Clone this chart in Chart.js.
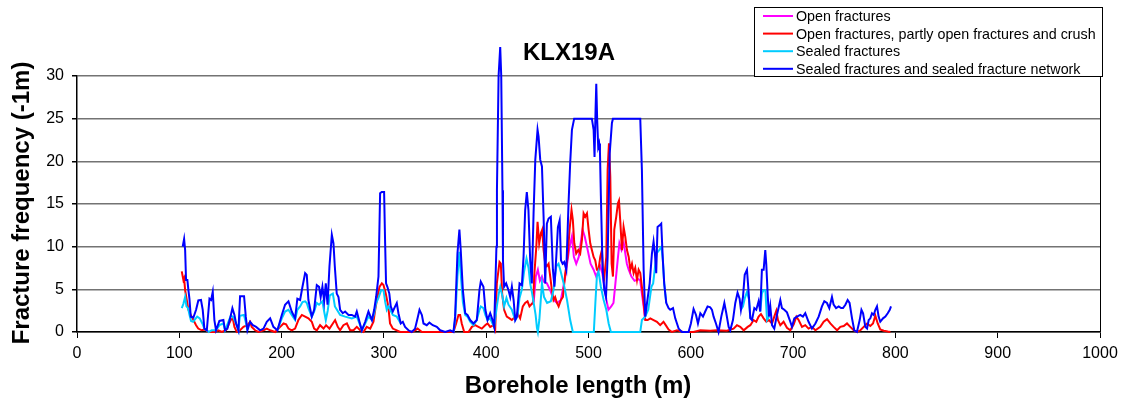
<!DOCTYPE html>
<html>
<head>
<meta charset="utf-8">
<script src="https://cdn.jsdelivr.net/npm/chart.js@4/dist/chart.umd.min.js"></script>
<style>
  html, body { margin: 0; padding: 0; background: #fff; }
  #wrap { width: 1130px; height: 405px; position: relative; }
</style>
</head>
<body>
<div id="wrap"><canvas id="chart"></canvas></div>
<script>
const chartTitle = 'KLX19A';
const xTitle = 'Borehole length (m)';
const yTitle = 'Fracture frequency (-1m)';
const xTicks = [0, 100, 200, 300, 400, 500, 600, 700, 800, 900, 1000];
const yTicks = [0, 5, 10, 15, 20, 25, 30];

const seriesNames = [
  'Open fractures',
  'Open fractures, partly open fractures and crush',
  'Sealed fractures',
  'Sealed fractures and sealed fracture network'
];
const seriesColors = ['#ff00ff', '#ff0000', '#00ccff', '#0000ff'];

// open fractures (only where it shows above the red line)
const openDepth = [444.6, 446.5, 448.5, 450.5, 452.5, 454.5, 456, 459.3, 462.6, 466, 469.2, 473, 477.3, 481.2, 483.8, 485.7, 488, 490.5, 494.2, 496.3, 499.2, 502, 505, 507.5, 511.5, 513.5, 515.6, 517.5, 519.5, 522.2, 524.4, 526.3, 528.5, 530.2, 532.3, 534.5, 537.5, 539.3, 542, 545, 549, 550.6, 552.2, 553.9, 555.5];
const openFreq = [3.3, 3.6, 6.5, 7.3, 6.0, 6.5, 5.9, 5.7, 4.9, 3.75, 3.4, 3.75, 6.5, 9.8, 11.2, 8.8, 8.0, 8.8, 12.0, 11.2, 9.6, 8.0, 7.3, 6.5, 7.7, 6.9, 5.3, 3.75, 2.6, 3.0, 3.4, 5.7, 8.4, 10.4, 9.6, 10.4, 8.0, 7.3, 6.5, 6.0, 6.2, 6.0, 4.5, 3.0, 1.4];

// open fractures, partly open fractures and crush
const crushDepth = [102.4, 104.0, 104.7, 105.7, 107.3, 108.9, 111.2, 113.8, 116.4, 118.5, 121.9, 125.1, 128.5, 134.6, 138.2, 141.5, 145.7, 148.0, 150.3, 152.3, 153.9, 156.2, 159.4, 162.7, 166.6, 169.2, 170.8, 174.1, 177.4, 182.3, 185.5, 188.8, 193.6, 198.6, 201.9, 204.4, 206.7, 209.9, 213.2, 216.4, 219.8, 223.0, 226.2, 229.5, 231.8, 234.4, 237.6, 241.0, 243.5, 246.8, 250.1, 252.3, 254.9, 257.2, 260.4, 263.8, 267.0, 270.3, 273.5, 276.8, 280.0, 283.2, 286.6, 289.8, 291.5, 293.7, 295.7, 298.0, 299.6, 301.8, 304.3, 306.0, 308.7, 312.6, 315.9, 327.4, 330.5, 332.9, 337.1, 368.0, 370.6, 372.9, 374.5, 376.1, 378.5, 382.7, 386.0, 389.2, 392.4, 395.7, 399.0, 401.3, 403.9, 407.2, 408.8, 410.4, 413.0, 414.3, 415.6, 417.5, 420.1, 422.8, 425.1, 428.4, 430.7, 433.2, 435.8, 438.1, 440.4, 442.3, 444.6, 445.9, 446.9, 449.0, 450.2, 451.8, 453.5, 454.8, 456.1, 457.7, 459.3, 461.0, 462.6, 464.2, 465.8, 467.4, 469.2, 470.8, 473.1, 475.0, 477.3, 479.6, 481.5, 483.4, 484.7, 486.1, 488.0, 490.0, 491.9, 493.6, 495.2, 496.8, 498.5, 500.1, 501.7, 503.3, 505.0, 506.6, 508.2, 509.8, 511.5, 513.1, 514.2, 515.5, 517.4, 518.7, 520.0, 521.3, 522.6, 523.9, 525.2, 527.1, 528.8, 529.8, 531.0, 532.7, 534.3, 535.9, 537.6, 539.3, 540.9, 542.5, 544.1, 545.7, 547.4, 549.0, 550.6, 552.2, 553.9, 555.5, 557.8, 560.4, 563.6, 566.9, 570.1, 573.3, 575.0, 578.3, 581.5, 586.5, 592.6, 602.6, 609.3, 619.0, 625.5, 635.3, 641.8, 645.1, 648.3, 651.7, 655.6, 658.2, 661.4, 664.0, 666.3, 668.6, 671.2, 673.8, 676.4, 679.4, 681.6, 683.6, 685.2, 687.5, 690.7, 694.0, 697.3, 700.6, 703.2, 705.4, 708.7, 711.9, 715.1, 718.4, 721.8, 726.6, 729.9, 733.2, 736.4, 739.6, 743.0, 746.2, 749.5, 752.7, 755.9, 759.2, 762.4, 765.8, 769.0, 772.3, 775.5, 778.1, 780.4, 782.7, 785.2, 788.6, 792.5, 795.1];
const crushFreq = [7.1, 6.1, 6.3, 4.9, 3.75, 2.6, 2.0, 1.4, 0.8, 0.4, 0.2, 0.3, 0, 0, 0.2, 0, 0.2, 0.8, 1.4, 1.6, 0.6, 0, 0.2, 0.6, 0.8, 1.2, 0.6, 0.2, 0, 0.2, 0.4, 0.2, 0, 0.6, 1.0, 0.9, 0.4, 0.2, 0.4, 1.4, 2.0, 1.8, 1.6, 1.2, 0.4, 0.2, 0.8, 0.4, 0.8, 0.4, 1.0, 1.4, 0.6, 0.2, 0.8, 1.0, 0.2, 0.2, 0.6, 0.2, 0, 0.6, 0.4, 1.2, 2.6, 4.1, 5.3, 5.7, 5.5, 4.5, 3.0, 1.0, 0.4, 0.2, 0, 0, 0.2, 0.4, 0, 0, 1.0, 2.0, 2.0, 1.0, 0, 0, 0.6, 0.8, 0.6, 0.4, 0.8, 1.0, 0.6, 0.8, 0.3, 5.7, 8.2, 8.0, 4.5, 2.6, 1.8, 1.6, 1.4, 1.8, 2.2, 1.6, 3.0, 3.4, 3.6, 3.0, 3.3, 3.4, 6.5, 10.0, 12.9, 10.4, 11.6, 12.0, 9.6, 8.0, 7.7, 8.0, 6.5, 4.9, 3.75, 4.1, 3.4, 3.0, 3.75, 4.1, 6.9, 8.8, 12.0, 14.3, 13.1, 10.4, 9.2, 9.6, 9.2, 10.8, 13.9, 13.5, 13.9, 12.0, 10.4, 9.6, 8.8, 8.4, 7.3, 7.3, 8.8, 9.6, 7.3, 6.5, 8.8, 19.0, 22.1, 18.2, 8.0, 6.5, 12.0, 13.5, 15.1, 15.4, 13.1, 9.6, 12.3, 11.2, 9.6, 8.8, 7.3, 8.0, 6.9, 7.5, 6.1, 7.3, 6.9, 5.3, 3.4, 1.4, 1.4, 1.6, 1.4, 1.2, 0.8, 1.2, 0.9, 0.3, 0, 0.2, 0, 0, 0.2, 0.15, 0.2, 0.15, 0.4, 0.8, 0.6, 0.2, 0.6, 0.8, 1.4, 1.2, 1.8, 2.1, 1.6, 1.2, 1.4, 1.0, 1.8, 2.5, 1.4, 0.8, 1.2, 0.5, 0.2, 0.9, 1.8, 1.4, 0.6, 0.8, 0.4, 0.6, 0.2, 0.6, 1.2, 1.5, 1.0, 0.6, 0.2, 0.6, 0.7, 1.0, 0.6, 0.2, 0, 0.2, 0.6, 1.0, 0.7, 1.0, 1.9, 1.0, 0.3, 0.15, 0.05, 0];

// sealed fractures (null = hidden under the blue line)
const sealedDepth = [102.4, 104.0, 105.7, 107.0, 108.5, 110.0, 111.5, 113.5, 115.5, 117.5, 120.0, 122.5, 124.5, 126.9, 128.6, 131.6, 135.9, 139.2, 143.1, 144.7, 150.3, 152.3, 155.5, 157.8, 159.2, 163.2, 164.9, 166.6,
  180,
  195.9, 200.2, 203.4, 206.7, 209.9, 213.2, 215.4, 218.1, 220.4, 223.0, 224.6, 226.2, 229.5, 231.8, 234.4, 236.6, 239.9, 241.6, 243.2, 245.1, 247.1, 250.1, 252.1, 254.1, 257.2, 262.1, 268.6, 273.5, 276.1, 278.4, 281.7, 284.9, 288.3, 290.5, 292.4, 294.7, 297.3, 299.6, 301.3, 302.8, 304.3, 305.3, 308.7, 312.6, 316.5,
  340,
  368.0, 369.6, 371.9, 373.8, 375.6, 377.2, 379.5, 381.7, 384.3, 387.6, 390.8, 393.4, 394.7, 397.3, 399.2, 401.3, 403.9, 406.2, 407.8, 410.4, 412.3, 413.8, 415.8, 417.5, 419.8, 421.8, 425.1, 428.4, 430.4, 432.6, 434.9, 436.9, 439.4, 441.4, 443.0, 444.9, 447.0, 448.3, 449.6, 450.5, 452.0, 454.5, 456.5, 459.5, 463.2, 465.8, 468.5, 470.7, 472.4, 475.7, 479.0, 482.1, 484.7, 505.2, 506.7, 508.2, 509.8, 512.1, 514.8, 517.4, 519.7, 521.9, 550.6, 552.2, 555.4, 558.4, 561.5, 563.2, 566.5, 569.1, 571.3, 572.7, 574.0, 576.0,
  610,
  649.0, 651.0, 652.9, 654.9, 656.9, 658.2,
  662,
  667.9, 669.5, 671.0, 672.9, 674.5, 676.4];
const sealedFreq = [2.8, 3.3, 4.1, 3.0, 2.8, 2.0, 1.3, 1.2, 1.5, 1.8, 1.6, 1.0, 0.4, 0.2, 0, 0.2, 0.2, 0.8, 1.0, 0.2, 1.9, 1.8, 1.0, 0.2, 1.9, 2.0, 1.2, 0.2,
  null,
  0.2, 1.6, 2.4, 2.6, 2.0, 1.4, 2.6, 3.0, 3.5, 3.6, 3.4, 2.8, 1.8, 2.4, 3.4, 3.2, 3.6, 2.4, 1.4, 2.5, 4.3, 4.5, 3.0, 2.6, 2.0, 1.8, 1.6, 1.8, 1.0, 0.2, 1.0, 1.8, 1.4, 2.2, 3.4, 4.0, 4.9, 4.9, 3.5, 2.6, 3.0, 2.8, 2.0, 1.8, 1.0,
  null,
  0, 1.4, 6.5, 9.4, 6.0, 3.5, 2.0, 1.8, 1.2, 0.8, 1.4, 2.6, 3.0, 2.8, 2.0, 1.4, 1.6, 1.0, 0.6, 3.0, 4.5, 5.3, 4.2, 3.0, 4.0, 3.2, 2.6, 1.4, 1.8, 4.0, 5.0, 7.0, 8.6, 7.5, 5.7, 4.5, 3.0, 2.0, 0.5, 0, 1.5, 5.7, 4.1, 3.4, 3.6, 4.9, 7.7, 8.0, 7.3, 5.7, 3.75, 1.4, 0, 0, 3.4, 6.5, 7.1, 5.3, 3.75, 2.6, 1.0, 0, 0, 1.4, 1.8, 2.6, 5.3, 5.7, 9.2, 9.6, 10.0, 8.4, 5.7, 3.4,
  null,
  2.6, 3.0, 4.0, 4.7, 3.8, 1.6,
  null,
  2.4, 4.5, 4.9, 4.9, 1.4, 1.8];

// sealed fractures and sealed fracture network
const networkDepth = [103.3, 104.7, 105.7, 106.6, 107.9, 108.9, 109.9, 111.2, 113.8, 116.4, 118.6, 121.2, 122.9, 124.5, 126.9, 129.5, 131.1, 132.7, 134.3, 135.9, 139.2, 143.1, 144.7, 147.0, 149.7, 151.9, 153.9, 155.5, 157.8, 159.4, 163.3, 165.0, 166.6, 169.2, 171.9, 175.1, 179.0, 182.3, 185.5, 188.8, 192.0, 195.9, 200.2, 203.4, 206.7, 209.9, 213.2, 215.4, 218.1, 220.4, 223.0, 224.6, 226.2, 229.5, 231.8, 234.4, 236.6, 238.2, 239.9, 241.6, 243.2, 244.9, 246.8, 249.1, 250.7, 252.0, 253.9, 255.6, 257.2, 259.8, 262.1, 265.4, 268.6, 271.8, 273.5, 276.1, 278.4, 281.7, 284.9, 288.3, 290.5, 292.4, 294.7, 296.3, 297.9, 300.2, 301.2, 302.1, 303.4, 305.3, 306.7, 308.7, 311.0, 312.6, 314.2, 316.5, 318.5, 320.7, 324.0, 327.2, 330.5, 332.9, 334.8, 337.1, 338.7, 341.9, 344.5, 347.8, 351.7, 355.0, 359.9, 364.8, 368.0, 369.6, 371.9, 373.8, 375.1, 377.2, 379.5, 381.7, 384.3, 387.6, 390.8, 393.4, 394.7, 397.3, 399.2, 401.3, 403.9, 406.2, 407.8, 410.0, 410.5, 412.1, 413.7, 414.7, 415.9, 416.4, 417.5, 419.5, 421.8, 423.5, 425.1, 426.8, 428.4, 430.0, 432.6, 434.9, 436.5, 438.1, 439.7, 441.3, 443.0, 444.6, 446.3, 448.0, 450.2, 451.2, 452.8, 454.5, 456.1, 457.7, 459.3, 461.0, 463.2, 465.2, 466.7, 468.5, 470.1, 471.8, 473.1, 474.7, 476.3, 478.3, 480.5, 482.1, 483.8, 486.0, 503.3, 505.0, 505.9, 506.9, 507.6, 508.5, 509.5, 510.4, 511.2, 512.1, 513.8, 515.5, 517.1, 518.7, 520.7, 522.9, 523.9, 550.6, 552.2, 553.9, 555.5, 557.2, 559.8, 562.0, 563.6, 564.9, 566.2, 567.5, 569.5, 571.1, 572.7, 574.0, 576.0, 578.3, 579.9, 582.6, 584.8, 588.1, 591.3, 597.8, 600.1, 602.7, 605.1, 607.0, 609.3, 611.9, 614.1, 616.4, 619.0, 620.7, 622.3, 624.6, 627.1, 629.8, 632.8, 634.7, 637.0, 638.6, 641.2, 643.5, 645.7, 647.7, 649.0, 651.0, 652.7, 654.9, 656.5, 658.2, 659.8, 662.1, 664.0, 666.3, 667.9, 669.5, 671.2, 672.8, 673.8, 675.1, 676.4, 677.7, 679.4, 681.6, 684.2, 687.5, 689.1, 691.4, 694.0, 696.7, 698.9, 701.2, 703.8, 707.0, 709.6, 711.9, 715.1, 718.4, 721.8, 725.0, 728.2, 730.5, 733.1, 735.4, 738.0, 739.6, 742.0, 744.6, 746.9, 748.8, 751.1, 753.3, 755.2, 757.6, 759.8, 762.4, 765.1, 766.8, 768.4, 770.6, 772.3, 773.9, 775.5, 777.1, 778.8, 780.4, 782.0, 783.6, 785.2, 787.9, 790.2, 792.5, 794.5, 795.7];
const networkFreq = [10.0, 10.9, 9.6, 6.1, 6.1, 4.9, 3.9, 1.8, 1.7, 2.6, 3.7, 3.75, 2.6, 0.4, 0.2, 3.9, 3.75, 4.7, 1.4, 0.2, 1.3, 1.4, 0.2, 0.4, 1.6, 2.8, 2.0, 1.0, 0.2, 4.2, 4.2, 1.8, 0.2, 1.2, 0.8, 0.6, 0.2, 0.4, 1.2, 1.6, 0.6, 0.2, 2.0, 3.2, 3.6, 2.4, 1.6, 3.9, 3.75, 5.3, 6.9, 6.7, 3.75, 1.8, 2.6, 5.5, 5.3, 4.1, 5.3, 3.6, 5.7, 3.2, 7.7, 11.4, 10.4, 7.7, 4.5, 4.1, 2.6, 2.2, 2.4, 2.0, 2.0, 1.8, 2.4, 1.2, 0.2, 1.2, 2.4, 1.4, 2.6, 4.1, 6.5, 16.25, 16.4, 16.4, 10.4, 5.7, 5.3, 4.5, 3.0, 2.4, 3.0, 3.4, 2.2, 1.0, 1.2, 0.6, 0.2, 0, 0.4, 1.6, 2.6, 2.0, 1.0, 0.8, 1.1, 0.8, 0.6, 0.2, 0, 0.2, 0, 1.8, 9.2, 12.0, 9.6, 4.9, 2.2, 2.0, 1.4, 1.0, 1.4, 4.9, 5.9, 5.3, 2.6, 1.4, 2.2, 1.4, 0.6, 10, 16.6, 30, 33.4, 30, 16.6, 8.4, 5.3, 5.7, 4.9, 4.1, 5.3, 3.75, 1.4, 1.8, 5.7, 5.5, 8.8, 14.3, 16.4, 14.3, 8.4, 5.7, 13.9, 20.2, 23.7, 22.9, 20.2, 19.4, 13.5, 5.7, 12.7, 13.3, 13.5, 7.3, 5.3, 8.8, 12.3, 13.1, 8.4, 8.0, 8.2, 7.3, 15.1, 19.8, 23.7, 25, 25, 23.7, 20.5, 26, 29.1, 24.8, 21.7, 22.1, 21.1, 15.9, 7.3, 4.9, 4.1, 8.8, 20.9, 24.5, 25, 25, 19, 7.3, 1.8, 3.4, 5.7, 9.2, 10.6, 9.2, 6.9, 12.3, 12.5, 12.7, 8.4, 5.7, 3.4, 2.8, 2.6, 2.8, 1.6, 0.4, 0, 0, 1.0, 2.7, 2.0, 1.0, 2.2, 1.8, 2.4, 3.0, 2.9, 2.6, 1.8, 1.0, 0, 1.8, 3.4, 2.2, 0.6, 0.2, 1.4, 3.4, 4.6, 3.9, 2.6, 4.1, 6.7, 7.3, 4.7, 1.6, 1.4, 2.8, 2.6, 3.6, 2.4, 7.3, 7.3, 9.6, 7.9, 4.5, 1.8, 3.0, 0.8, 0.4, 2.0, 3.75, 2.8, 2.6, 2.3, 1.4, 0.6, 1.6, 1.8, 2.0, 1.8, 2.2, 1.2, 0.4, 1.0, 1.8, 3.0, 3.6, 3.4, 2.8, 4.1, 3.2, 2.8, 3.0, 2.8, 2.8, 3.2, 3.75, 3.4, 1.6, 0.2, 0, 1.4, 2.6, 2.2, 0.6, 0.4, 1.4, 1.6, 2.2, 2.0, 2.6, 3.0, 1.8, 1.2, 1.6, 1.8, 2.2, 2.6, 3.0];

const FONT = "'Liberation Sans', Arial, sans-serif";

const toPoints = (depth, freq) => depth.map((d, i) => ({ x: d, y: freq[i] }));

const seriesData = [
  toPoints(openDepth, openFreq),
  toPoints(crushDepth, crushFreq),
  toPoints(sealedDepth, sealedFreq),
  toPoints(networkDepth, networkFreq)
];

// excel style: later series drawn on top
const datasets = seriesData.map((data, i) => ({
  label: seriesNames[i],
  data,
  borderColor: seriesColors[i],
  backgroundColor: seriesColors[i],
  borderWidth: 2,
  pointRadius: 0,
  tension: 0,
  spanGaps: false,
  clip: false,
  order: 3 - i
}));

const textPlugin = {
  id: 'texts',
  afterDraw(chart) {
    const ctx = chart.ctx;
    ctx.save();
    ctx.fillStyle = '#000';
    ctx.textAlign = 'center';
    ctx.textBaseline = 'middle';

    ctx.font = `bold 24px ${FONT}`;
    ctx.fillText(chartTitle, 569, 53);

    ctx.fillText(xTitle, 578, 386);

    ctx.save();
    ctx.translate(22, 203);
    ctx.rotate(-Math.PI / 2);
    ctx.fillText(yTitle, 0, 0);
    ctx.restore();

    // legend box
    const bx = 754.5, by = 7.5, bw = 348, bh = 69;
    ctx.fillStyle = '#fff';
    ctx.fillRect(bx, by, bw, bh);
    ctx.strokeStyle = '#000';
    ctx.lineWidth = 1;
    ctx.strokeRect(bx, by, bw, bh);
    ctx.font = `14.3px ${FONT}`;
    ctx.textAlign = 'left';
    chart.data.datasets.forEach((ds, i) => {
      const y = 16 + i * 17.6;
      ctx.strokeStyle = ds.borderColor;
      ctx.lineWidth = 2;
      ctx.beginPath();
      ctx.moveTo(763, y);
      ctx.lineTo(793, y);
      ctx.stroke();
      ctx.fillStyle = '#000';
      ctx.fillText(ds.label, 796, y + 1);
    });
    ctx.restore();
  }
};

new Chart(document.getElementById('chart'), {
  type: 'line',
  data: { datasets },
  options: {
    responsive: true,
    maintainAspectRatio: false,
    animation: false,
    devicePixelRatio: 1,
    layout: { padding: { top: 76, right: 30, bottom: 0, left: 0 } },
    plugins: {
      legend: { display: false },
      tooltip: { enabled: false },
      title: { display: false }
    },
    scales: {
      x: {
        type: 'linear',
        min: 0,
        max: 1000,
        afterBuildTicks: s => { s.ticks = xTicks.map(v => ({ value: v })); },
        afterFit: s => { s.height = 73; },
        ticks: {
          callback: v => String(v),
          color: '#000',
          font: { family: FONT, size: 16 },
          maxRotation: 0,
          autoSkip: false,
          padding: 6
        },
        grid: {
          color: c => (c.tick && c.tick.value === 1000 ? '#000' : 'rgba(0,0,0,0)'),
          lineWidth: 1,
          tickColor: '#000',
          tickLength: 6,
          drawTicks: true
        },
        border: { color: '#000', width: 1.5 }
      },
      y: {
        min: 0,
        max: 30,
        afterBuildTicks: s => { s.ticks = yTicks.map(v => ({ value: v })); },
        afterFit: s => { s.width = 77; },
        ticks: {
          callback: v => String(v),
          color: '#000',
          font: { family: FONT, size: 16 },
          padding: 8
        },
        grid: {
          color: '#737373',
          lineWidth: 1.5,
          tickColor: '#000',
          tickLength: 5
        },
        border: { color: '#000', width: 1.5 }
      }
    }
  },
  plugins: [textPlugin]
});
</script>
</body>
</html>
